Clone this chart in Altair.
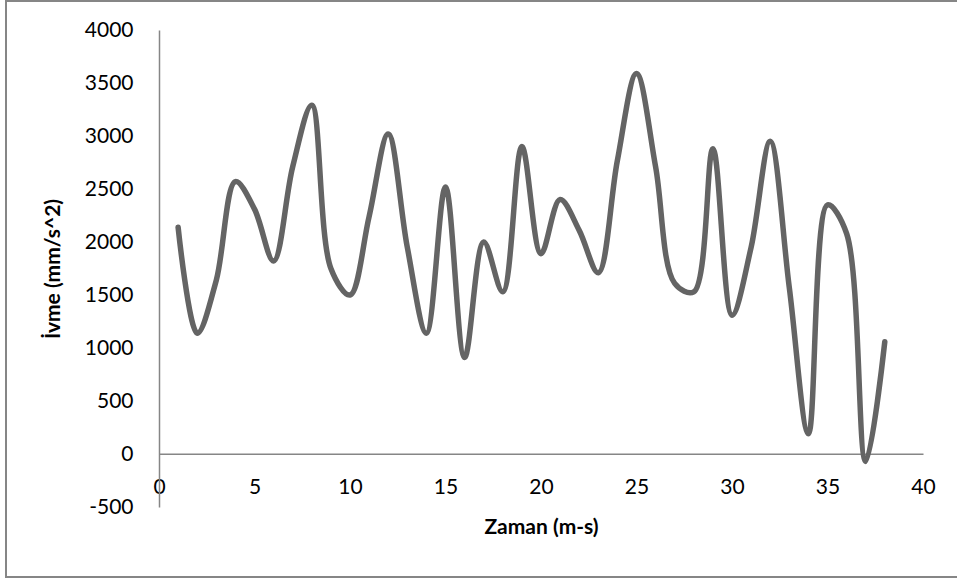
import altair as alt
import pandas as pd

# Time (m-s) and acceleration (mm/s^2)
zaman = list(range(1, 39))
ivme = [2140, 1140, 1640, 2570, 2310, 1820, 2710, 3290, 1750, 1500,
        2240, 3020, 1950, 1140, 2520, 910, 2000, 1530, 2900, 1890,
        2400, 2110, 1710, 2770, 3590, 2710, 1610, 1530, 2880, 1310,
        1950, 2950, 1570, 190, 2350, 2080, -70, 1060]

x_ticks = [0, 5, 10, 15, 20, 25, 30, 35, 40]
y_ticks = [-500, 0, 500, 1000, 1500, 2000, 2500, 3000, 3500, 4000]

df = pd.DataFrame({"Zaman": zaman, "Ivme": ivme})

FONT = "Lato"
FS = 21
W, H = 764, 477

line = alt.Chart(df).mark_line(
    interpolate="catmull-rom", color="#646464", strokeWidth=5.5,
    strokeCap="round", strokeJoin="round"
).encode(
    x=alt.X("Zaman:Q",
            scale=alt.Scale(domain=[0, 40], nice=False, zero=False),
            axis=alt.Axis(values=x_ticks, title="Zaman (m-s)", grid=False,
                          ticks=False, tickSize=0, offset=-53.3,
                          domainColor="#868686", domainWidth=1.5,
                          labelPadding=34, labelBaseline="middle",
                          labelFont=FONT, labelFontSize=FS, labelColor="#000000",
                          titleFont=FONT, titleFontSize=FS, titleFontWeight="bold",
                          titleColor="#000000", titleX=382, titleY=74,
                          titleBaseline="middle", titleAlign="center",
                          labelFlush=False, labelOverlap=False)),
    y=alt.Y("Ivme:Q",
            scale=alt.Scale(domain=[-500, 4000], nice=False, zero=False),
            axis=alt.Axis(values=y_ticks, title="İvme (mm/s^2)", grid=False,
                          ticks=False, tickSize=0,
                          domainColor="#868686", domainWidth=1.5,
                          labelPadding=26, labelExpr="'' + datum.value",
                          labelFont=FONT, labelFontSize=FS, labelColor="#000000",
                          titleFont=FONT, titleFontSize=FS, titleFontWeight="bold",
                          titleColor="#000000", titleX=-106, titleY=238.5,
                          titleAngle=-90, titleBaseline="middle", titleAlign="center",
                          labelFlush=False, labelOverlap=False)),
)

border = alt.Chart(alt.Data(values=[{"k": 1}])).mark_rect(
    fillOpacity=0, stroke="#868686", strokeWidth=2, clip=False
).encode(
    x=alt.value(-153), x2=alt.value(820),
    y=alt.value(-29), y2=alt.value(547),
)

chart = alt.layer(border, line).properties(
    width=W, height=H,
    autosize=alt.AutoSizeParams(type="none"),
    padding={"left": 159, "top": 30, "right": 34, "bottom": 71},
    background="#ffffff",
).configure_view(stroke=None)

chart.save("out.html", embed_options={"renderer": "svg", "actions": False})
